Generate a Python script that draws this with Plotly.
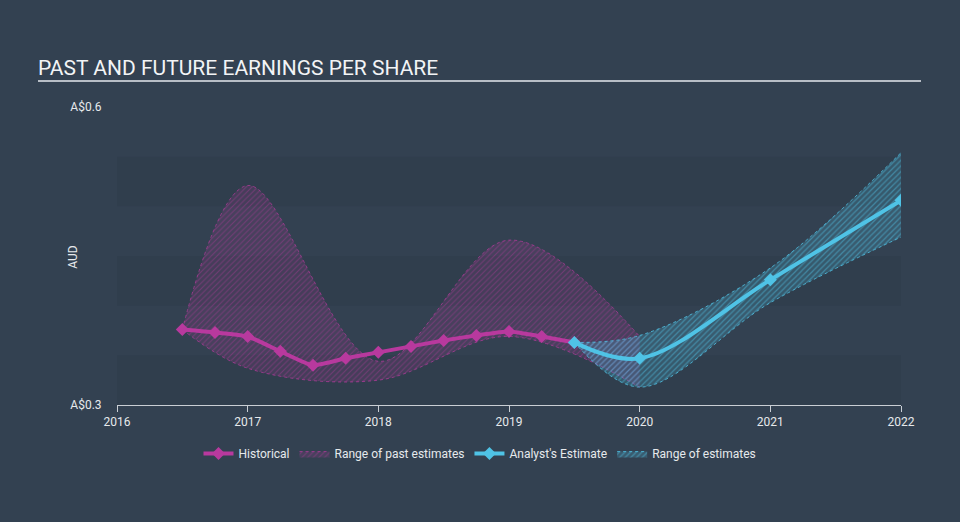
import plotly.graph_objects as go

# ---- data ----
hist_x = [2016.5, 2016.75, 2017.0, 2017.25, 2017.5, 2017.75, 2018.0, 2018.25, 2018.5, 2018.75, 2019.0, 2019.25, 2019.5]
hist_y = [0.376, 0.373, 0.369, 0.354, 0.340, 0.347, 0.353, 0.359, 0.365, 0.370, 0.374, 0.369, 0.363]

past_x = [2016.5, 2017.0, 2018.0, 2019.0, 2020.0]
past_hi = [0.376, 0.521, 0.344, 0.466, 0.369]
past_lo = [0.376, 0.337, 0.325, 0.369, 0.318]

est_x = [2019.5, 2020.0, 2021.0, 2022.0]
est_y = [0.363, 0.347, 0.426, 0.506]
est_hi = [0.363, 0.370, 0.438, 0.554]
est_lo = [0.363, 0.318, 0.403, 0.469]

x_ticks = [2016, 2017, 2018, 2019, 2020, 2021, 2022]
y_ticks = [0.3, 0.6]
y_ticktext = ["A$0.3", "A$0.6"]
bands = [(0.30, 0.35), (0.40, 0.45), (0.50, 0.55)]

PINK = "#b8399e"
BLUE = "#4fc3e6"
FONT = "Roboto"

fig = go.Figure()

# past range
fig.add_trace(go.Scatter(x=past_x, y=past_hi, mode="lines", line=dict(color="rgba(184,57,158,0.7)", width=1, shape="spline", dash="dot"),
                         showlegend=False, hoverinfo="skip"))
fig.add_trace(go.Scatter(x=past_x, y=past_lo, mode="lines", line=dict(color="rgba(184,57,158,0.7)", width=1, shape="spline", dash="dot"),
                         fill="tonexty", fillcolor="rgba(184,57,158,0.16)",
                         fillpattern=dict(shape="/", fgcolor="rgba(184,57,158,0.8)", size=4, solidity=0.25, fillmode="overlay"),
                         name="Range of past estimates", legendrank=2))
# estimate range
fig.add_trace(go.Scatter(x=est_x, y=est_hi, mode="lines", line=dict(color="rgba(79,195,230,0.8)", width=1, shape="spline", dash="dot"),
                         showlegend=False, hoverinfo="skip"))
fig.add_trace(go.Scatter(x=est_x, y=est_lo, mode="lines", line=dict(color="rgba(79,195,230,0.8)", width=1, shape="spline", dash="dot"),
                         fill="tonexty", fillcolor="rgba(79,195,230,0.2)",
                         fillpattern=dict(shape="/", fgcolor="rgba(79,195,230,0.9)", size=4, solidity=0.3, fillmode="overlay"),
                         name="Range of estimates", legendrank=4))
# lines
fig.add_trace(go.Scatter(x=hist_x, y=hist_y, mode="lines+markers", line=dict(color=PINK, width=4, shape="spline", smoothing=0.5),
                         marker=dict(symbol="diamond", size=10, color=PINK), name="Historical", legendrank=1))
fig.add_trace(go.Scatter(x=est_x, y=est_y, mode="lines+markers", line=dict(color=BLUE, width=4, shape="spline"),
                         marker=dict(symbol="diamond", size=10, color=BLUE), name="Analyst's Estimate", legendrank=3))

shapes = []
for lo, hi in bands:
    shapes.append(dict(type="rect", xref="x", yref="y", x0=2016, x1=2022, y0=lo, y1=hi,
                       fillcolor="rgba(20,30,40,0.09)", line_width=0, layer="below"))
# title underline
shapes.append(dict(type="line", xref="paper", yref="paper", x0=(38 - 117) / 784, x1=(921 - 117) / 784,
                   y0=(405.5 - 81) / 298.5, y1=(405.5 - 81) / 298.5, line=dict(color="#b8bec6", width=2)))

fig.update_layout(
    width=960, height=522,
    margin=dict(l=117, r=59, t=107, b=116.5),
    paper_bgcolor="#334151", plot_bgcolor="rgba(0,0,0,0)",
    font=dict(family=FONT, color="#e6e9ec", size=12),
    shapes=shapes,
    showlegend=True,
    legend=dict(orientation="h", x=0.463, y=-0.163, xanchor="center", yanchor="middle", traceorder="normal",
                font=dict(size=12, color="#e6e9ec"), bgcolor="rgba(0,0,0,0)", itemwidth=30, tracegroupgap=0),
    annotations=[
        dict(text="PAST AND FUTURE EARNINGS PER SHARE", xref="paper", yref="paper",
             x=(36 - 117) / 784, y=(405.5 - 68) / 298.5, xanchor="left", yanchor="middle",
             showarrow=False, font=dict(size=21, color="#f2f4f6", family=FONT)),
        dict(text="AUD", xref="paper", yref="paper", x=(73 - 117) / 784, y=(405.5 - 257) / 298.5,
             textangle=-90, showarrow=False, font=dict(size=12, color="#e6e9ec"), xanchor="center", yanchor="middle"),
    ],
    xaxis=dict(range=[2016, 2022], tickvals=x_ticks, ticktext=[str(v) for v in x_ticks], showgrid=False, zeroline=False,
               showline=True, linecolor="#c9ced4", linewidth=1, ticks="outside", ticklen=6, tickcolor="#c9ced4",
               tickfont=dict(size=12, color="#e6e9ec")),
    yaxis=dict(range=[0.3, 0.6], tickvals=y_ticks, ticktext=y_ticktext, showgrid=False, zeroline=False,
               showline=False, ticks="outside", ticklen=12, tickcolor="rgba(0,0,0,0)",
               tickfont=dict(size=12, color="#e6e9ec")),
)

fig.write_html("out.html")
